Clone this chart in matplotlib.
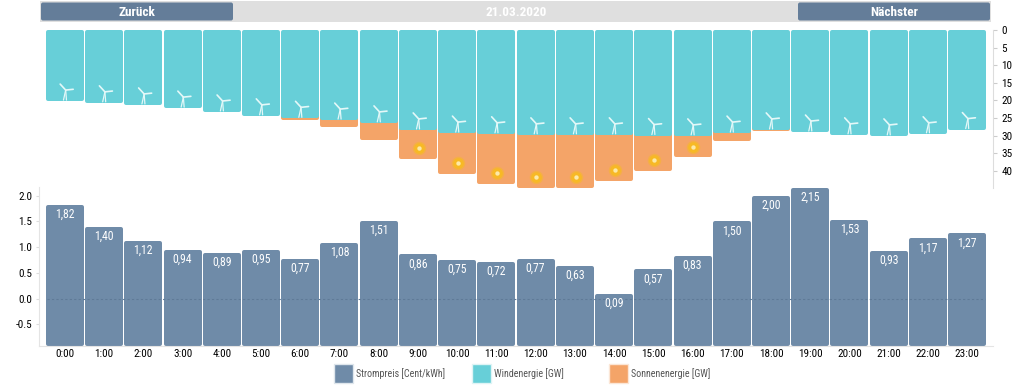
import matplotlib
matplotlib.use("Agg")
import matplotlib.pyplot as plt
import numpy as np
from matplotlib.patches import FancyBboxPatch, Patch, Rectangle

plt.rcParams['font.family'] = ['Roboto Condensed', 'Lato', 'DejaVu Sans']

# Data
hours = ["0:00", "1:00", "2:00", "3:00", "4:00", "5:00", "6:00", "7:00", "8:00", "9:00", "10:00", "11:00",
         "12:00", "13:00", "14:00", "15:00", "16:00", "17:00", "18:00", "19:00", "20:00", "21:00", "22:00", "23:00"]
price = [1.82, 1.40, 1.12, 0.94, 0.89, 0.95, 0.77, 1.08, 1.51, 0.86, 0.75, 0.72,
         0.77, 0.63, 0.09, 0.57, 0.83, 1.50, 2.00, 2.15, 1.53, 0.93, 1.17, 1.27]
wind = [20.2, 20.7, 21.3, 22.2, 23.3, 24.4, 25.1, 25.6, 26.4, 28.4, 29.3, 29.5,
        29.8, 29.8, 29.8, 30.0, 30.1, 29.3, 28.4, 29.0, 29.8, 30.1, 29.5, 28.3]
solar = [0, 0, 0, 0, 0, 0, 0.4, 2.0, 5.0, 8.2, 11.6, 14.2,
         15.0, 15.0, 13.0, 10.0, 6.0, 2.2, 0.3, 0, 0, 0, 0, 0]
wind_ticks = [0, 5, 10, 15, 20, 25, 30, 35, 40]
price_ticks = [-0.5, 0.0, 0.5, 1.0, 1.5, 2.0]
date_label = "21.03.2020"

BLUE = "#6f8ba8"
BTN = "#647d99"
TEAL = "#67cfd8"
ORANGE = "#f4a468"
W, H = 1031, 386
x = np.arange(len(hours))
wind_arr = np.array(wind)
solar_arr = np.array(solar)
price_arr = np.array(price)

# px per data unit, and corner radius drawn with a round stroke
XPX, WPX, PPX = 39.2, 3.52, 51.6
R = 2.0
LW = 2 * R * 72 / 100
BAR_W = (38 - 2 * R) / XPX


def px_axes(fig, left, top, right, bottom):
    return fig.add_axes([left / W, 1 - bottom / H, (right - left) / W, (bottom - top) / H])


def style_axes(ax):
    for s in ax.spines.values():
        s.set_visible(False)
    ax.set_xlim(-0.66, 23.66)
    ax.patch.set_alpha(0)


fig = plt.figure(figsize=(W / 100, H / 100), dpi=100)

# page furniture in pixel coordinates
bg = fig.add_axes([0, 0, 1, 1])
bg.set_xlim(0, W)
bg.set_ylim(H, 0)
bg.axis("off")
bg.add_patch(Rectangle((40, 1), 951, 21, color="#dfdfdf", lw=0))
for bx, label in [(41, "Zurück"), (798, "Nächster")]:
    bg.add_patch(FancyBboxPatch((bx, 2.5), 192, 18, boxstyle="round,pad=0,rounding_size=2", fc=BTN, ec="none"))
    bg.text(bx + 96, 12.5, label, color="white", fontsize=9.5, fontweight="bold", ha="center", va="center")
bg.text(516, 12, date_label, color="white", fontsize=9.5, fontweight="bold", ha="center", va="center")

# top chart: wind and solar hanging down
ax1 = px_axes(fig, 39, 30, 993, 188)
style_axes(ax1)
ax1.set_ylim(44.9, 0)
r1 = R / WPX
has_sun = solar_arr > 0
ax1.bar(x[has_sun], solar_arr[has_sun] + r1, bottom=wind_arr[has_sun] - 2 * r1, width=BAR_W, color=ORANGE,
        edgecolor=ORANGE, linewidth=LW, joinstyle="round", zorder=1)
ax1.bar(x, wind_arr - 2 * r1, bottom=r1, width=BAR_W, color=TEAL, edgecolor=TEAL, linewidth=LW,
        joinstyle="round", zorder=2)
ax1.spines["right"].set_visible(True)
ax1.spines["right"].set_color("#dddddd")
ax1.yaxis.tick_right()
ax1.set_yticks(wind_ticks)
ax1.set_yticklabels([str(t) for t in wind_ticks])
ax1.tick_params(axis="y", length=3, color="#cccccc", labelsize=8, pad=3)
ax1.set_xticks([])

# wind turbines, offsets in px from the hub
sx, sy = 1 / XPX, 1 / WPX
for i, w in enumerate(wind):
    hx, hy = i + 0.02, w - 11 * sy
    for dx, dy, lw in [(-5.5, -6, 1.2), (7.5, -0.8, 1.2), (-2.2, 10, 0.9), (0.8, 10, 0.9)]:
        ax1.plot([hx, hx + dx * sx], [hy, hy + dy * sy], color="#e4f8f8", lw=lw, solid_capstyle="round", zorder=3)

# suns on the larger solar bars
for i, s in enumerate(solar):
    if s >= 6:
        yy = wind[i] + s - 10.5 * sy
        ax1.scatter(i + 0.02, yy, s=95, color="#f6b23c", alpha=0.75, linewidths=0, zorder=3)
        ax1.scatter(i + 0.02, yy, s=58, color="#f7b925", linewidths=0, zorder=4)
        ax1.scatter(i + 0.02, yy, s=10, color="#fde9a8", linewidths=0, zorder=5)

# bottom chart: price
base = -0.92
ax2 = px_axes(fig, 39, 187, 993, 346)
style_axes(ax2)
ax2.set_ylim(base, 2.17)
r2 = R / PPX
ax2.bar(x, price_arr - base - 2 * r2, bottom=base + r2, width=BAR_W, color=BLUE, edgecolor=BLUE, linewidth=LW,
        joinstyle="round", zorder=2)
ax2.axhline(0, color="#5f7a97", lw=0.8, ls=(0, (2, 2)), zorder=3, xmin=0.008, xmax=0.992)
for i, p in enumerate(price):
    ax2.text(i, p - 9.5 / PPX, f"{p:.2f}".replace(".", ","), color="white", fontsize=8.5, ha="center", va="center", zorder=4)
ax2.spines["left"].set_visible(True)
ax2.spines["bottom"].set_visible(True)
ax2.spines["left"].set_color("#e4e4e4")
ax2.spines["bottom"].set_color("#e4e4e4")
ax2.set_yticks(price_ticks)
ax2.set_yticklabels([f"{t:.1f}" for t in price_ticks])
ax2.set_xticks(x)
ax2.set_xticklabels(hours)
ax2.tick_params(axis="y", length=2, color="#dddddd", labelsize=8, pad=3)
ax2.tick_params(axis="x", length=0, labelsize=8, pad=2)

# legend, one anchored entry per swatch so the gaps match
entries = [(BLUE, "#dfe6ec", "Strompreis [Cent/kWh]", 334),
           (TEAL, "#dff4f5", "Windenergie [GW]", 472),
           (ORANGE, "#fbe6d6", "Sonnenenergie [GW]", 609)]
for fc, ec, label, lx in entries:
    fig.legend(handles=[Patch(fc=fc, ec=ec, label=label)], frameon=False, fontsize=7.2, labelcolor="#555555",
               loc="center left", bbox_to_anchor=(lx / W, 1 - 373.5 / H), handlelength=1.9, handleheight=2.4,
               handletextpad=0.3, borderpad=0, borderaxespad=0)

fig.savefig("out.png", dpi=100)
